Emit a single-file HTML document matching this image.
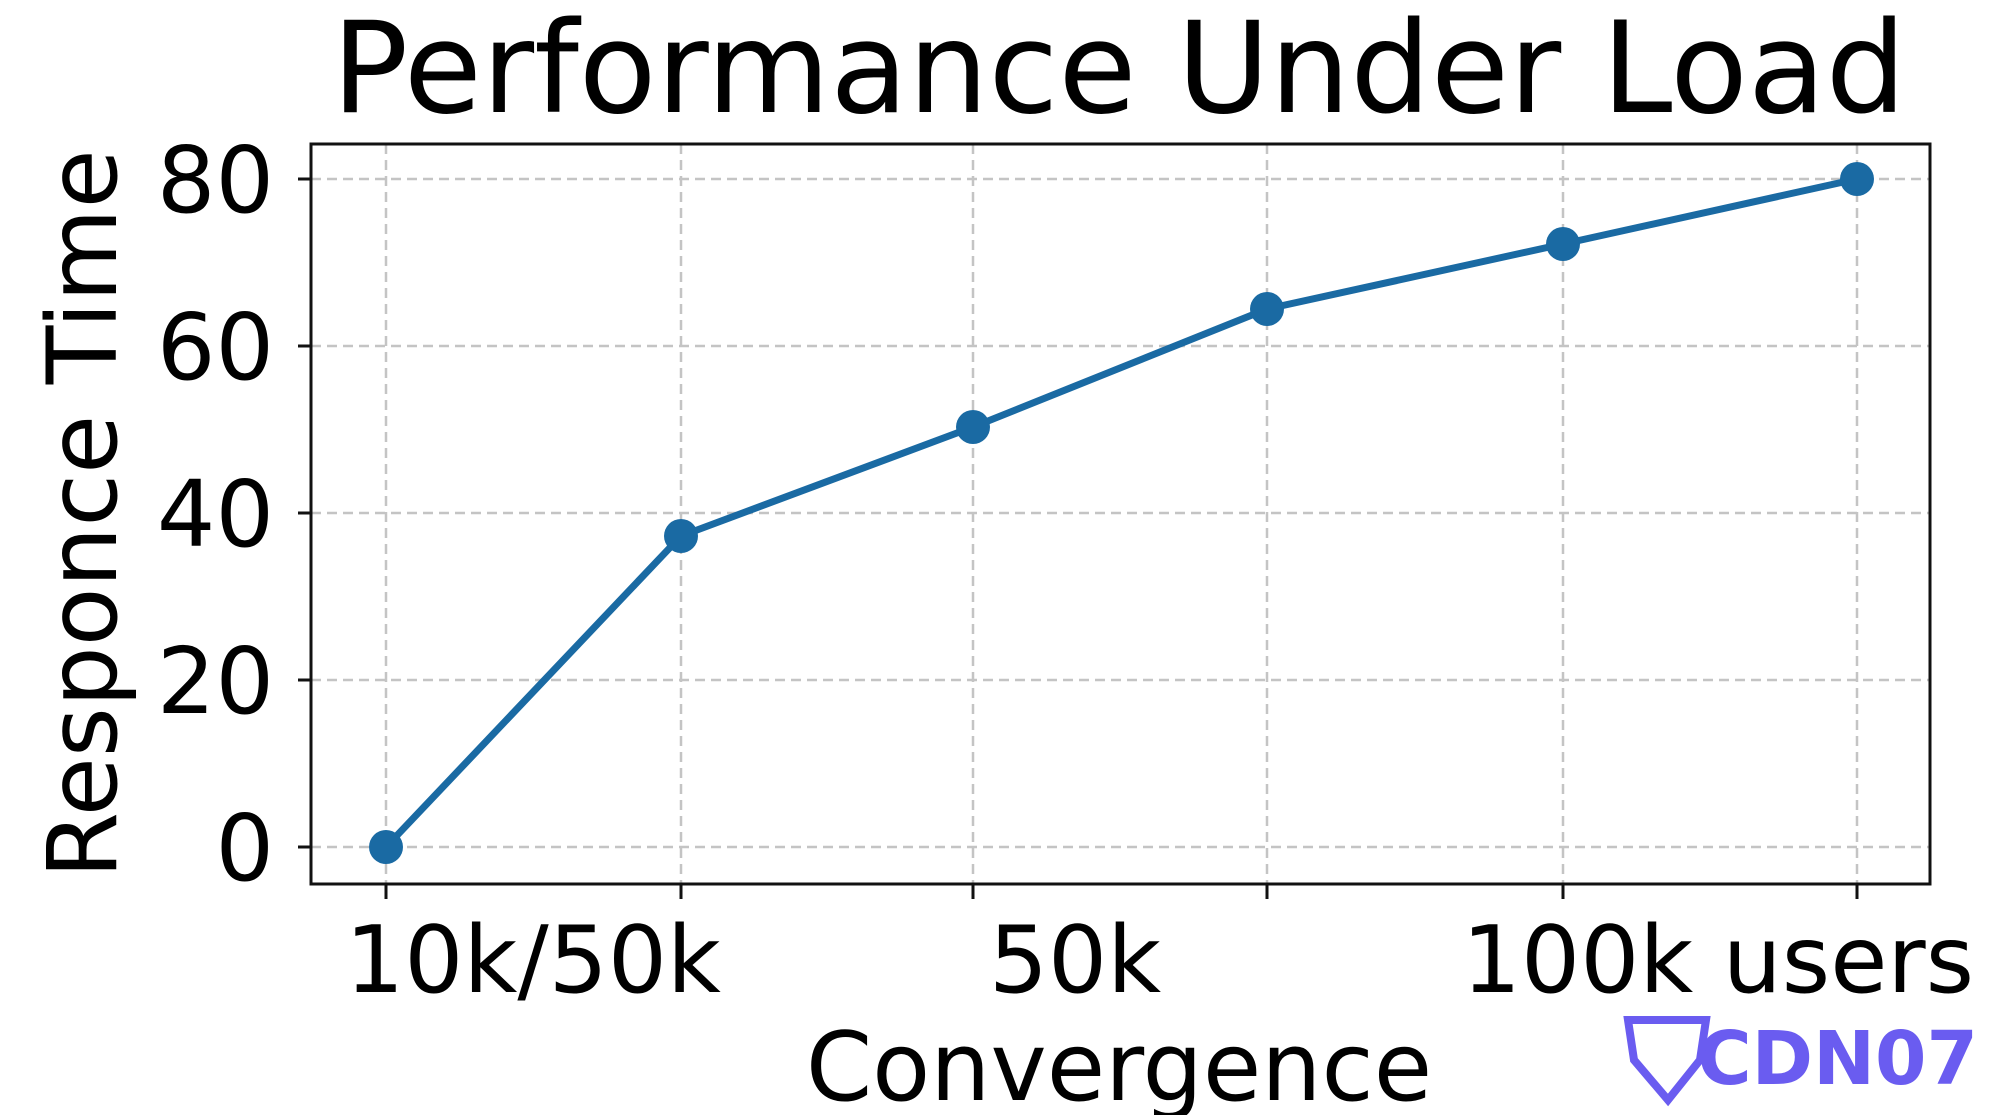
<!DOCTYPE html>
<html><head><meta charset="utf-8"><style>
html,body{margin:0;padding:0;background:#fff;}
svg{display:block;}
text{font-family:"DejaVu Sans","Liberation Sans",sans-serif;fill:#000;}
</style></head><body>
<svg width="2000" height="1115" viewBox="0 0 2000 1115" xmlns="http://www.w3.org/2000/svg">
<rect width="2000" height="1115" fill="#fff"/>
<g stroke="#c4c4c4" stroke-width="2.5" stroke-dasharray="10,6">
<line x1="386" y1="144" x2="386" y2="884"/><line x1="681" y1="144" x2="681" y2="884"/>
<line x1="973" y1="144" x2="973" y2="884"/><line x1="1267" y1="144" x2="1267" y2="884"/>
<line x1="1563" y1="144" x2="1563" y2="884"/><line x1="1857" y1="144" x2="1857" y2="884"/>
<line x1="311" y1="179" x2="1930" y2="179"/><line x1="311" y1="346" x2="1930" y2="346"/>
<line x1="311" y1="513" x2="1930" y2="513"/><line x1="311" y1="680" x2="1930" y2="680"/>
<line x1="311" y1="847" x2="1930" y2="847"/>
</g>
<rect x="311" y="144" width="1619" height="740" fill="none" stroke="#111" stroke-width="3"/>
<g stroke="#111" stroke-width="3">
<line x1="298" y1="179" x2="311" y2="179"/><line x1="298" y1="346" x2="311" y2="346"/>
<line x1="298" y1="513" x2="311" y2="513"/><line x1="298" y1="680" x2="311" y2="680"/>
<line x1="298" y1="847" x2="311" y2="847"/>
<line x1="386" y1="884" x2="386" y2="899"/><line x1="681" y1="884" x2="681" y2="899"/>
<line x1="973" y1="884" x2="973" y2="899"/><line x1="1267" y1="884" x2="1267" y2="899"/>
<line x1="1563" y1="884" x2="1563" y2="899"/><line x1="1857" y1="884" x2="1857" y2="899"/>
</g>
<polyline points="386,847 681,536 973,427 1267,309 1563,244 1857,179" fill="none" stroke="#1a6aa3" stroke-width="7" stroke-linejoin="round"/>
<g fill="#1a6aa3">
<circle cx="386" cy="847" r="17"/><circle cx="681" cy="536" r="17"/><circle cx="973" cy="427" r="17"/>
<circle cx="1267" cy="309" r="17"/><circle cx="1563" cy="244" r="17"/><circle cx="1857" cy="179" r="17"/>
</g>
<text x="1119" y="112" font-size="127" text-anchor="middle">Performance Under Load</text>
<g font-size="92" text-anchor="end">
<text x="274" y="212">80</text><text x="274" y="379">60</text><text x="274" y="546">40</text>
<text x="274" y="713">20</text><text x="274" y="880">0</text>
</g>
<g font-size="93" text-anchor="middle">
<text x="533" y="992">10k/50k</text><text x="1075" y="992">50k</text><text x="1718" y="992">100k users</text>
<text x="1119" y="1100" font-size="95">Convergence</text>
</g>
<text transform="translate(116,514) rotate(-90)" font-size="96" text-anchor="middle">Responce Time</text>
<text x="1978" y="1084" font-size="74" font-weight="bold" text-anchor="end" style="fill:#6a5cf0">CDN07</text>
<path d="M1628 1020 L1706 1020 L1700 1060 L1668 1100 L1634 1060 Z" fill="none" stroke="#6a5cf0" stroke-width="8"/>
</svg>
</body></html>
